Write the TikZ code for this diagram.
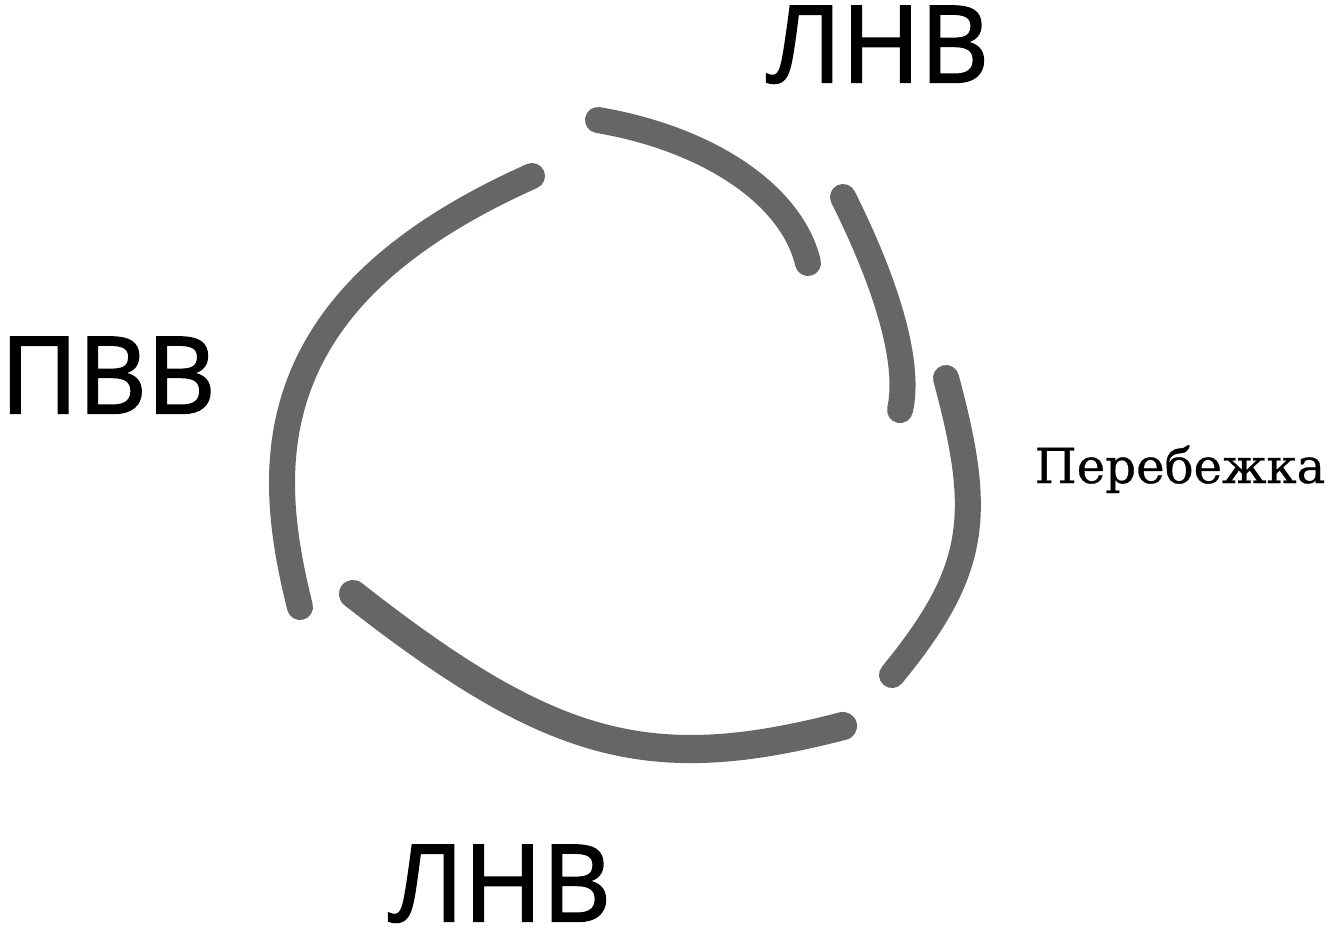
\documentclass[tikz,border=0pt]{standalone}
\usepackage{fontspec}
\usepackage{tikz}
\newfontfamily\zonefont{Open Sans}[FakeBold=2]
\newfontfamily\runfont{DejaVu Serif}[FakeBold=0.6]
\tikzset{
   band/.style={draw=black!60, line width=7.4pt, line cap=round},
   zone/.style={anchor=base, inner sep=0pt,
      font=\zonefont\fontsize{30.2}{36}\selectfont},
   runlabel/.style={anchor=base, inner sep=0pt,
      font=\runfont\fontsize{13.7}{16}\selectfont},
    }
\begin{document}
\begin{tikzpicture}[x=0.01cm, y=-0.01cm]
            \useasboundingbox (0,0) rectangle (1333,944);
            % ring of five pieces
            \draw[band] (598,120) .. controls (709,139) and (792,195) .. (808,263);
            \draw[band] (843,197) .. controls (890,291) and (910,366) .. (900,410);
            \draw[band] (946,378) .. controls (983,515) and (978,570) .. (892,675);
            \draw[band] (532,176) .. controls (362,252) and (282,350) .. (282,483)
                              .. controls (282,525) and (290,567) .. (300,607);
            \draw[band, line width=8pt] (353,594) .. controls (552,750) and (650,776) .. (843,726);
            % labels
            \node[zone] (lnvtop) at (878,82) {ЛНВ};
            \node[zone] (pvv) at (108,413) {ПВВ};
            \node[zone] (lnvbot) at (500,921) {ЛНВ};
            \node[runlabel] (run) at (1180,483) {Перебежка};

        \end{tikzpicture}
\end{document}
